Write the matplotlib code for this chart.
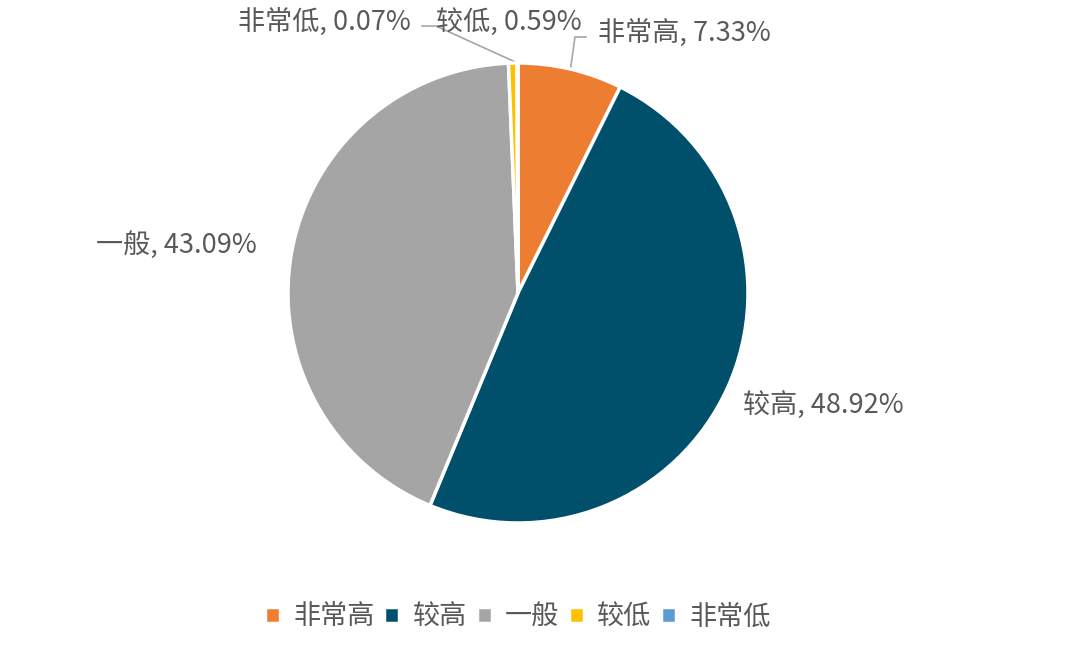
import numpy as np
import matplotlib
matplotlib.use('Agg')
import matplotlib.pyplot as plt

plt.rcParams['font.family'] = ['Noto Sans CJK SC', 'DejaVu Sans']

# data
categories = ['非常高', '较高', '一般', '较低', '非常低']
shares = [7.33, 48.92, 43.09, 0.59, 0.07]
colors = ['#ED7D31', '#004F6B', '#A5A5A5', '#FFC000', '#5B9BD5']

W, H = 1080, 667
fig = plt.figure(figsize=(W / 100, H / 100), dpi=100)
ax = fig.add_axes([0, 0, 1, 1])

cx, cy, r = 518, H - 293, 230
wedges, _ = ax.pie(shares, colors=colors, startangle=90, counterclock=False,
                   center=(cx, cy), radius=r, frame=True,
                   wedgeprops=dict(edgecolor='white', linewidth=2.5))
ax.set_xlim(0, W)
ax.set_ylim(0, H)
ax.set_aspect('equal')
ax.axis('off')

txt_color = '#595959'
line_color = '#A6A6A6'
fs = 19.5

# label anchor (pixel coords from top) and alignment
label_pos = {
    '非常高': (598, 33, 'left'),
    '较高': (743, 405, 'left'),
    '一般': (96, 245, 'left'),
    '较低': (436, 22, 'left'),
    '非常低': (411, 22, 'right'),
}

def edge_point(i, k=1.0):
    w = wedges[i]
    ang = np.deg2rad((w.theta1 + w.theta2) / 2)
    return cx + k * r * np.cos(ang), cy + k * r * np.sin(ang)

for i, (cat, val) in enumerate(zip(categories, shares)):
    x, y, ha = label_pos[cat]
    ax.text(x, H - y, f'{cat}, {val:.2f}%', ha=ha, va='center',
            fontsize=fs, color=txt_color)

# leader lines
ex, ey = edge_point(0, 1.0)
ax.plot([ex, 575, 586], [ey, H - 37, H - 37], color=line_color, lw=1.2, zorder=0)
ex, ey = edge_point(4, 1.0)
ax.plot([ex, 436, 422], [ey, H - 26, H - 26], color=line_color, lw=1.2, zorder=0)

fig.legend(wedges, categories, loc='center', ncol=5,
           bbox_to_anchor=(518 / W, 1 - 617 / H), frameon=False,
           fontsize=fs, labelcolor=txt_color,
           handlelength=0.55, handleheight=0.55, handletextpad=0.5,
           columnspacing=0.35)

fig.savefig('out.png', dpi=100)
